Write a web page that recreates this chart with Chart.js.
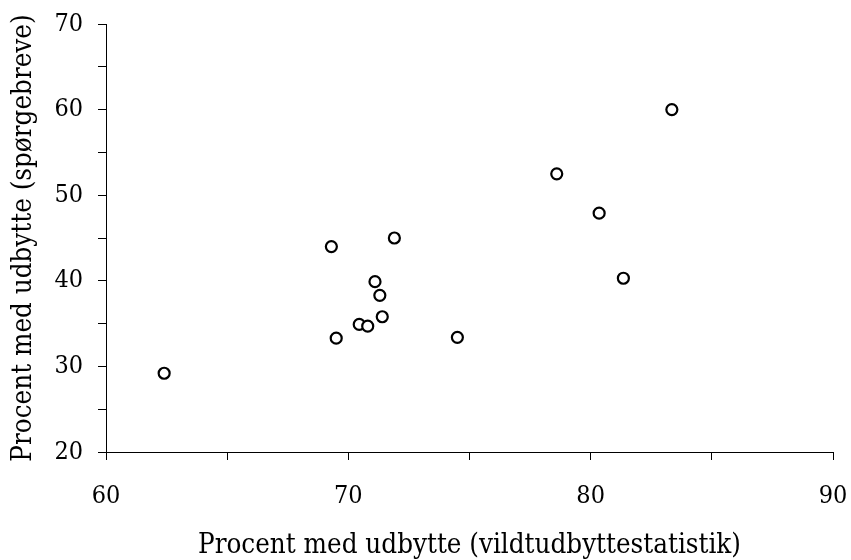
<!DOCTYPE html>
<html lang="da">
<head>
  <meta charset="UTF-8" />
  <title>Udbytte</title>
  <script src="https://cdn.jsdelivr.net/npm/chart.js"></script>
  <style>
    html, body { margin: 0; padding: 0; background: #fff; }
    #wrap { width: 851px; height: 560px; position: relative; }
  </style>
</head>
<body>
<div id="wrap"><canvas id="scatter"></canvas></div>
<script>
  // values
  const xValues = [62.4, 69.3, 69.5, 70.45, 70.8, 71.1, 71.3, 71.4, 71.9, 74.5, 78.6, 80.35, 81.35, 83.35];
  const yValues = [29.2, 44.0, 33.3, 34.9, 34.7, 39.9, 38.3, 35.8, 45.0, 33.4, 52.5, 47.9, 40.3, 60.0];
  const xRange = [60, 90];
  const yRange = [20, 70];
  const xTitle = 'Procent med udbytte (vildtudbyttestatistik)';
  const yTitle = 'Procent med udbytte (spørgebreve)';

  const points = xValues.map((x, i) => ({ x: x, y: yValues[i] }));
  const serif = '"DejaVu Serif Condensed", "DejaVu Serif", serif';

  // tick label offset is done with lineHeight on x (padding would widen the side margins)
  const axis = (min, max, title, titlePad, tickPad, tickLH, fit) => ({
    type: 'linear',
    min: min,
    max: max,
    border: { display: true, color: '#000', width: 1 },
    grid: { drawOnChartArea: false, drawTicks: true, tickLength: 8, color: '#000' },
    ticks: {
      stepSize: 5,
      autoSkip: false,
      padding: tickPad,
      color: '#000',
      font: { family: serif, size: 25, lineHeight: tickLH },
      callback: v => (v % 10 === 0 ? v : '')
    },
    title: {
      display: true,
      text: title,
      color: '#000',
      font: { family: serif, size: 27.5, lineHeight: 1 },
      padding: titlePad
    },
    afterFit: fit
  });

  new Chart(document.getElementById('scatter'), {
    type: 'scatter',
    data: {
      datasets: [{
        data: points,
        pointStyle: 'circle',
        pointRadius: 5.5,
        pointBorderWidth: 2.2,
        borderColor: '#000',
        backgroundColor: '#fff'
      }]
    },
    options: {
      responsive: true,
      maintainAspectRatio: false,
      animation: false,
      layout: { padding: { top: 24, right: 18, left: 0, bottom: 0 } },
      plugins: { legend: { display: false }, tooltip: { enabled: false } },
      scales: {
        x: axis(xRange[0], xRange[1], xTitle, { top: 0, bottom: 0 }, 0, 2.9, s => { s.height = 108; }),
        y: axis(yRange[0], yRange[1], yTitle, { top: 10, bottom: 0 }, 15, 0.5, s => { s.width = 106; })
      }
    }
  });
</script>
</body>
</html>
